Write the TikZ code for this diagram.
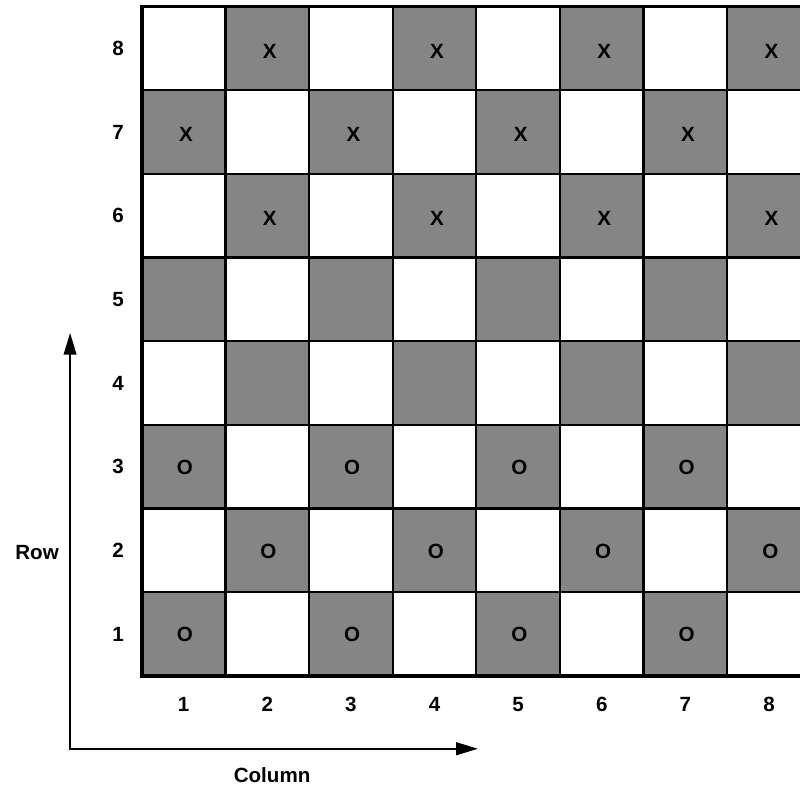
\documentclass[tikz,border=0pt]{standalone}
\usepackage{fontspec}
\setsansfont{Liberation Sans}
\usetikzlibrary{arrows.meta}
\definecolor{cdark}{gray}{0.52}
\tikzset{
  every picture/.style={font=\sffamily\bfseries, line width=1.6pt},
  cell/.style={draw=black, fill=#1, minimum size=2cm, inner sep=0pt, outer sep=0pt},
  cell/.default=white,
  num/.style={font=\sffamily\bfseries\fontsize{14}{16}\selectfont},
  tip/.style={Triangle[length=5mm, width=2.8mm]},
}

\begin{document}
\begin{tikzpicture}[
  dark/.style={cell=cdark},
  light/.style={cell=white},
  piece/.style={font=\sffamily\bfseries\fontsize{14}{16}\selectfont, inner sep=0pt},
  axis/.style={{Triangle[length=5.2mm, width=3mm]}-{Triangle[length=5.2mm, width=3mm]}, line width=1.6pt, line join=miter}]
  \clip (-3.39,-2.73) rectangle (15.74,16.16);
  % board squares
  \foreach \c in {1,...,8} {
    \foreach \r in {1,...,8} {
      \pgfmathparse{int(mod(\c+\r,2))}
      \ifnum\pgfmathresult=0 \def\sty{dark}\else\def\sty{light}\fi
      \node[\sty] (sq-\c-\r) at ({2*\c-1},{2*\r-1}) {};
    }
  }
  \draw[line width=2.4pt] (sq-1-1.south west) rectangle (sq-8-8.north east);
  % pieces
  \foreach \c in {2,4,6,8} {
    \node[piece] (x8-\c) at ([shift={(0.06,-0.06)}]sq-\c-8) {X};
    \node[piece] (x6-\c) at ([shift={(0.06,-0.06)}]sq-\c-6) {X};
    \node[piece] (o2-\c) at ([shift={(0.03,-0.02)}]sq-\c-2) {O};
  }
  \foreach \c in {1,3,5,7} {
    \node[piece] (x7-\c) at ([shift={(0.06,-0.06)}]sq-\c-7) {X};
    \node[piece] (o3-\c) at ([shift={(0.03,-0.02)}]sq-\c-3) {O};
    \node[piece] (o1-\c) at ([shift={(0.03,-0.02)}]sq-\c-1) {O};
  }
  % labels
  \foreach \i in {1,...,8} {
    \node[num] (row-\i) at (-0.567,{2*\i-1}) {\i};
    \node[num] (col-\i) at ({2*\i-1},-0.693) {\i};
  }
  % axes
  \coordinate (corner) at (-1.714,-1.745);
  \coordinate (rowtip) at (-1.714,8.2);
  \coordinate (coltip) at (8.04,-1.745);
  \draw[axis] (rowtip) -- (corner) -- (coltip);
  \node[num] (rowlab) at (-2.504,2.94) {Row};
  \node[num] (collab) at (3.116,-2.367) {Column};
\end{tikzpicture}
\end{document}
